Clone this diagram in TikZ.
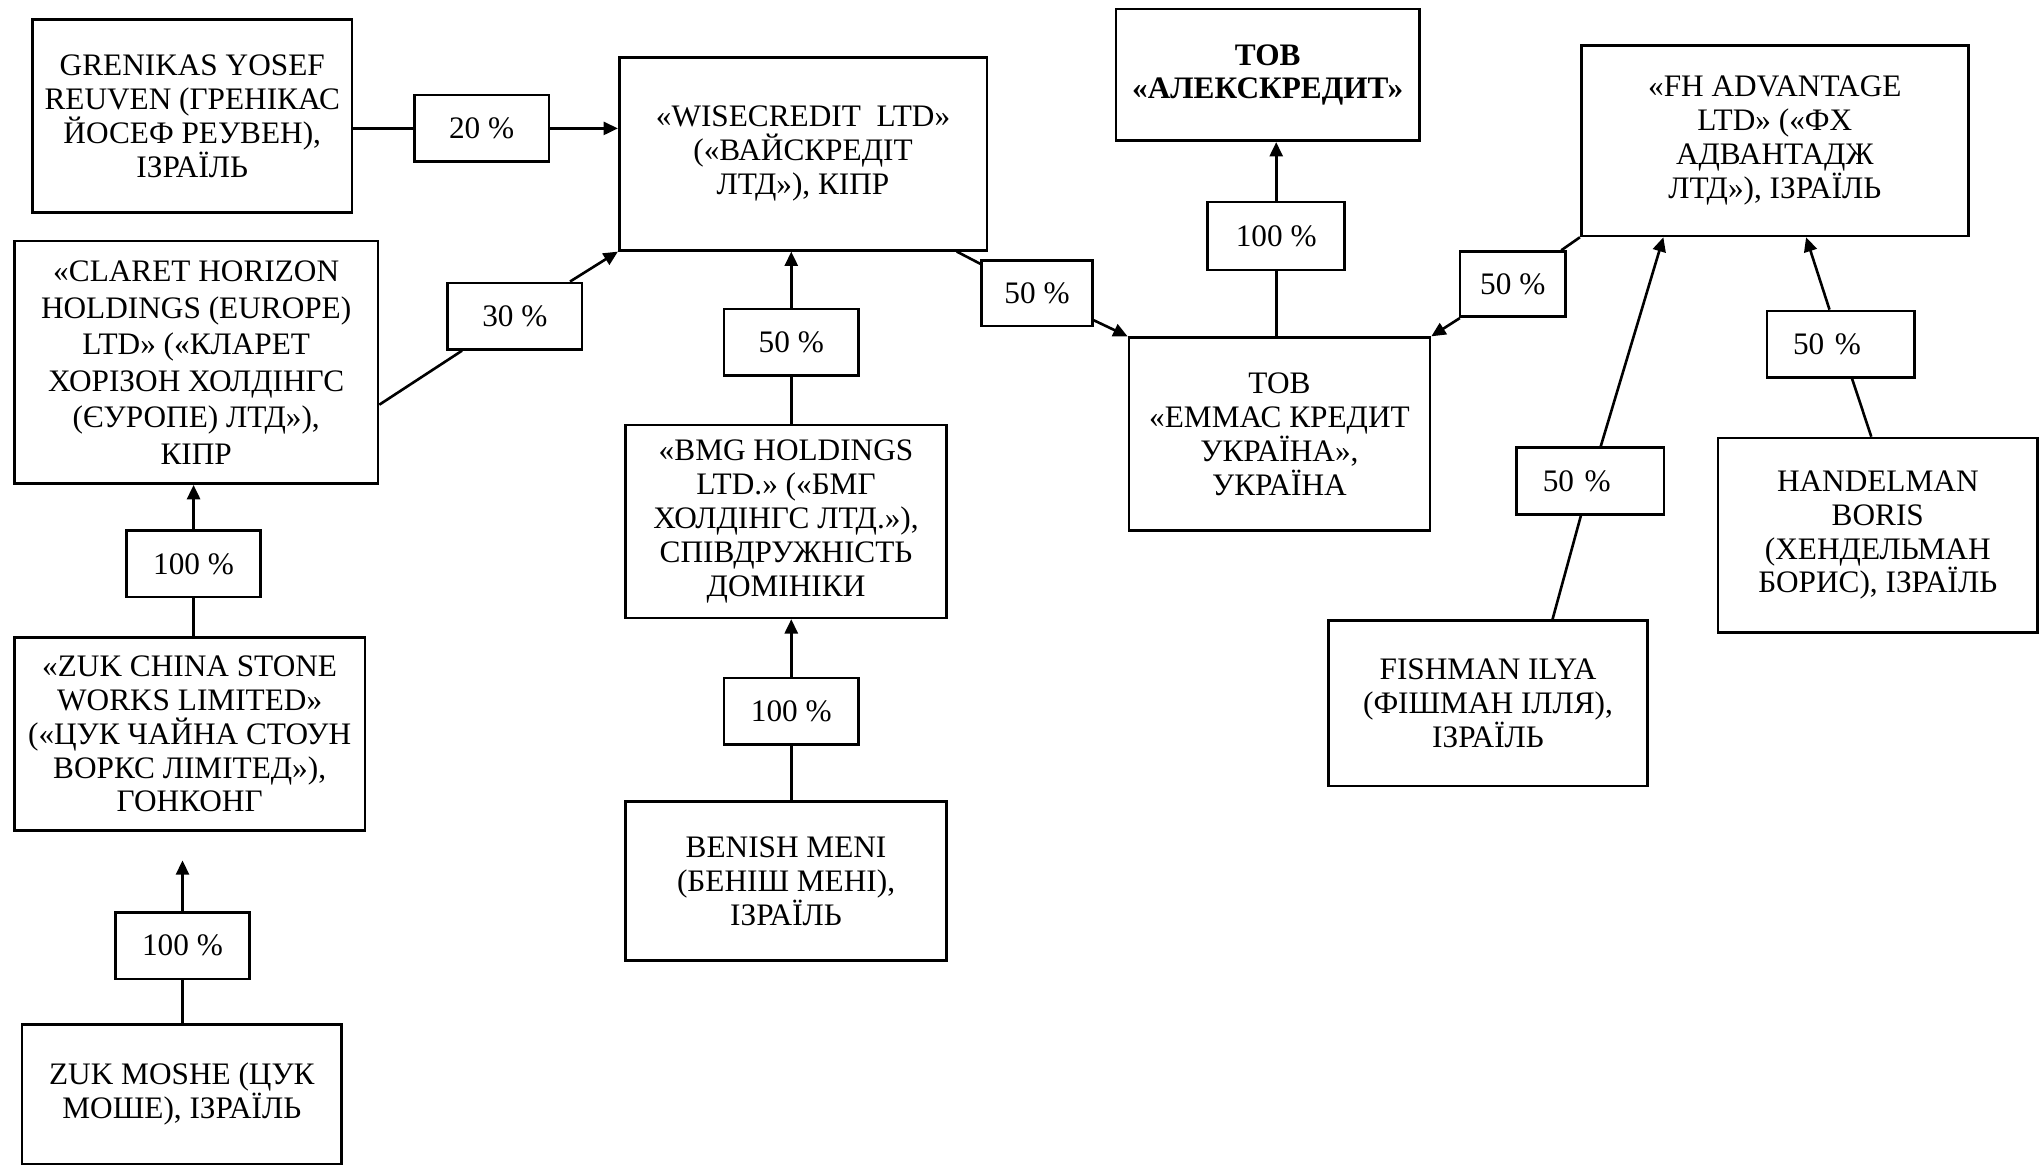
\documentclass[tikz,border=0pt]{standalone}
\usepackage{fontspec}
\setmainfont{Liberation Serif}
\usetikzlibrary{arrows.meta}

\tikzset{
  firm/.style={draw, line width=1pt, align=center, inner sep=0pt, font=\fontsize{12}{13}\selectfont},
  pct/.style={draw, line width=1pt, inner sep=0pt, minimum width=51.5pt, minimum height=25.5pt, font=\fontsize{12}{13}\selectfont},
  pctwide/.style={pct, minimum width=0pt, text width=36.5pt, inner xsep=10pt, align=left},
}

\begin{document}
\begin{tikzpicture}
      [x=0.5pt, y=-0.5pt, line width=1pt, >={Triangle[length=5.5pt,width=5pt]}]
    \useasboundingbox (0,0) rectangle (1568,895);

    % left column
    \node[firm, minimum width=122.5pt, minimum height=74pt] (gren) at (147.5,89) {GRENIKAS YOSEF\\REUVEN (ГРЕНІКАС\\ЙОСЕФ РЕУВЕН),\\ІЗРАЇЛЬ};
    \node[firm, minimum width=139.5pt, minimum height=93pt, font=\fontsize{12}{14}\selectfont] (claret) at (150.5,278) {«CLARET HORIZON\\HOLDINGS (EUROPE)\\LTD» («КЛАРЕТ\\ХОРІЗОН ХОЛДІНГС\\(ЄУРОПЕ) ЛТД»),\\КІПР};
    \node[firm, minimum width=134.5pt, minimum height=74pt] (zukc) at (145.5,563) {«ZUK CHINA STONE\\WORKS LIMITED»\\(«ЦУК ЧАЙНА СТОУН\\ВОРКС ЛІМІТЕД»),\\ГОНКОНГ};
    \node[firm, minimum width=122.5pt, minimum height=53.5pt] (zukm) at (139.5,839.5) {ZUK MOSHE (ЦУК\\МОШЕ), ІЗРАЇЛЬ};

    % middle column
    \node[firm, minimum width=141pt, minimum height=74pt] (wise) at (616,118) {«WISECREDIT~~LTD»\\(«ВАЙСКРЕДІТ\\ЛТД»), КІПР};
    \node[firm, minimum width=123pt, minimum height=74pt] (bmg) at (603,400) {«BMG HOLDINGS\\LTD.» («БМГ\\ХОЛДІНГС ЛТД.»),\\СПІВДРУЖНІСТЬ\\ДОМІНІКИ};
    \node[firm, minimum width=123pt, minimum height=61pt] (benish) at (603,676) {BENISH MENI\\(БЕНІШ МЕНІ),\\ІЗРАЇЛЬ};

    % right part
    \node[firm, minimum width=116.5pt, minimum height=50.5pt, font=\fontsize{12}{13}\selectfont\bfseries] (alex) at (972.5,57.5) {ТОВ\\«АЛЕКСКРЕДИТ»};
    \node[firm, minimum width=115.5pt, minimum height=74pt] (emmas) at (981.5,333) {ТОВ\\«ЕММАС КРЕДИТ\\УКРАЇНА»,\\УКРАЇНА};
    \node[firm, minimum width=148.5pt, minimum height=73pt] (fh) at (1361.5,108) {«FH ADVANTAGE\\LTD» («ФХ\\АДВАНТАДЖ\\ЛТД»), ІЗРАЇЛЬ};
    \node[firm, minimum width=122.5pt, minimum height=63.5pt] (fishman) at (1141.5,539.5) {FISHMAN ILYA\\(ФІШМАН ІЛЛЯ),\\ІЗРАЇЛЬ};
    \node[firm, minimum width=122.5pt, minimum height=74.5pt] (handel) at (1440.5,410.5) {HANDELMAN\\BORIS\\(ХЕНДЕЛЬМАН\\БОРИС), ІЗРАЇЛЬ};

    % shares
    \node[pct] (l20) at (369.5,98.5) {20 \%};
    \node[pct] (l30) at (395,242.5) {30 \%};
    \node[pct] (lc100) at (148.5,432.5) {100 \%};
    \node[pct] (lz100) at (140,725.5) {100 \%};
    \node[pct] (lb50) at (607,262.5) {50 \%};
    \node[pct] (lbn100) at (607,545.5) {100 \%};
    \node[pct, minimum width=42.5pt, minimum height=25pt] (lw50) at (795.5,225) {50 \%};
    \node[pct, minimum width=52.5pt, minimum height=26pt] (la100) at (979,181) {100 \%};
    \node[pct, minimum width=40.5pt, minimum height=25pt] (lf50) at (1160.5,218) {50 \%};
    \node[pctwide] (lfi50) at (1220,369) {50 \%};
    \node[pctwide] (lh50) at (1412,264) {50 \%};

    \coordinate (zuktip) at (140,660);

    \draw (gren.east |- l20) -- (l20);
    \draw[->] (l20) -- (wise.west |- l20);

    \draw (claret.-13) -- (l30);
    \draw[->] (l30) -- (wise.south west);

    \foreach \from/\to in {zukc/lc100, zukm/lz100, bmg/lb50, benish/lbn100, emmas/la100}
      \draw (\from.north -| \to) -- (\to);

    \foreach \from/\to in {lc100/claret, lb50/wise, lbn100/bmg, la100/alex}
      \draw[->] (\from) -- (\from |- \to.south);
    \draw[->] (lz100) -- (zuktip);

    \draw ([xshift=-12pt]wise.south east) -- (lw50);
    \draw[->] (lw50) -- (emmas.north west);

    \draw (fh.south west) -- (lf50);
    \draw[->] (lf50) -- (emmas.north east);

    \draw ([xshift=-37pt]fishman.north east) -- (lfi50);
    \draw[->] (lfi50) -- ([xshift=32pt]fh.south west);

    \draw ([xshift=-2.5pt]handel.north) -- (lh50);
    \draw[->] (lh50) -- ([xshift=12pt]fh.south);
\end{tikzpicture}
\end{document}
